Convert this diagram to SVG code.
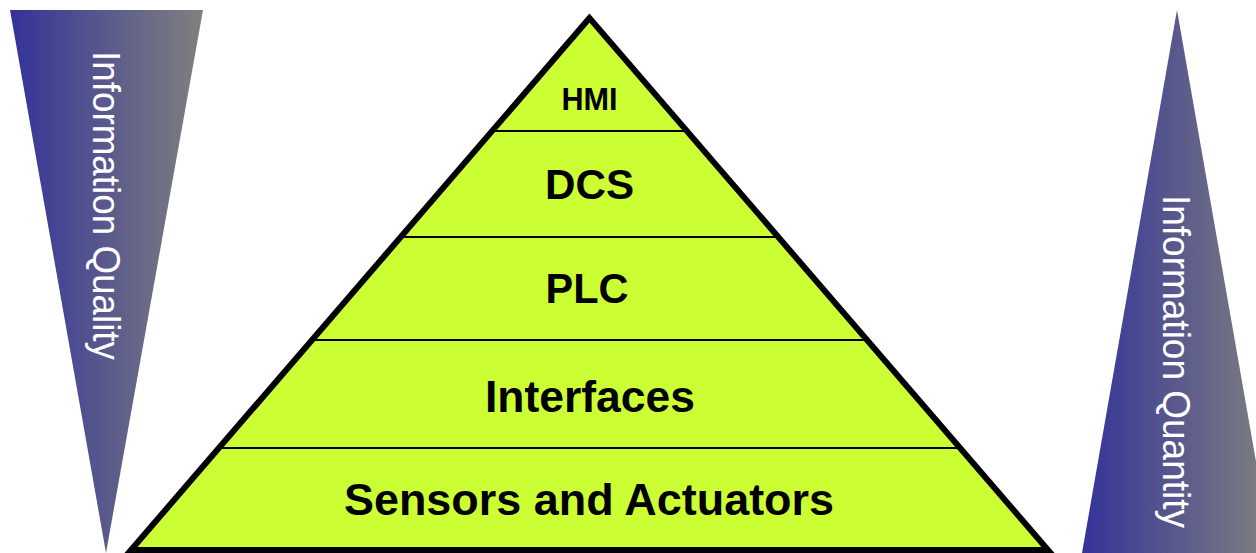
<svg xmlns="http://www.w3.org/2000/svg" width="1256" height="553" viewBox="0 0 1256 553">
  <defs>
    <linearGradient id="grad" x1="0" y1="0" x2="1" y2="0">
      <stop offset="0" stop-color="#333399"/>
      <stop offset="1" stop-color="#808080"/>
    </linearGradient>
  </defs>
  <style>
    .side { fill: url(#grad); }
    .sidetext { font-family: "Liberation Sans", Arial, sans-serif; font-size: 38px; fill: #ffffff; }
    .sep { stroke: #000000; stroke-width: 2.2; }
    .outline { fill: none; stroke: #000000; stroke-width: 6; stroke-linejoin: miter; }
    .fill { fill: #CCFF33; }
    .label { font-family: "Liberation Sans", Arial, sans-serif; font-weight: bold; fill: #000000; text-anchor: middle; }
  </style>
  <rect width="1256" height="553" fill="#ffffff"/>

  <g id="information-quality">
    <polygon class="side" points="10,10 203,10 106,553"/>
    <text class="sidetext" transform="translate(93,51) rotate(90)" x="0" y="0" textLength="309" lengthAdjust="spacingAndGlyphs">Information Quality</text>
  </g>

  <g id="information-quantity">
    <polygon class="side" points="1177,10 1082,553 1272,553"/>
    <text class="sidetext" transform="translate(1163,195) rotate(90)" x="0" y="0" textLength="333" lengthAdjust="spacingAndGlyphs">Information Quantity</text>
  </g>

  <g id="pyramid">
    <polygon class="fill" points="589.5,18 131,550 1048,550"/>
    <g id="layer-hmi">
      <text class="label" x="589.5" y="110" font-size="32" textLength="56" lengthAdjust="spacingAndGlyphs">HMI</text>
    </g>
    <g id="layer-dcs">
      <line class="sep" x1="492" y1="131" x2="687" y2="131"/>
      <text class="label" x="589.5" y="199" font-size="43" textLength="89" lengthAdjust="spacingAndGlyphs">DCS</text>
    </g>
    <g id="layer-plc">
      <line class="sep" x1="400.7" y1="237" x2="778.3" y2="237"/>
      <text class="label" x="587" y="303" font-size="43" textLength="83" lengthAdjust="spacingAndGlyphs">PLC</text>
    </g>
    <g id="layer-interfaces">
      <line class="sep" x1="311.9" y1="340" x2="867.1" y2="340"/>
      <text class="label" x="590" y="412" font-size="44" textLength="210" lengthAdjust="spacingAndGlyphs">Interfaces</text>
    </g>
    <g id="layer-sensors">
      <line class="sep" x1="218.8" y1="448" x2="960.2" y2="448"/>
      <text class="label" x="589" y="515" font-size="44" textLength="490" lengthAdjust="spacingAndGlyphs">Sensors and Actuators</text>
    </g>
    <polygon class="outline" points="589.5,18 131,550 1048,550"/>
  </g>

  <g id="connectors"/>
</svg>
